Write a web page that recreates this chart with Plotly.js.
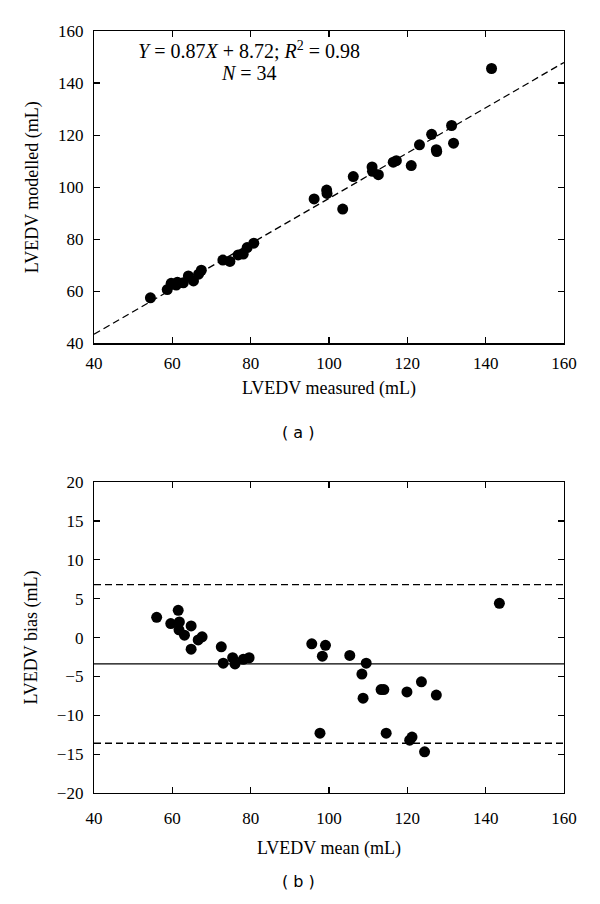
<!DOCTYPE html>
<html>
<head>
<meta charset="utf-8">
<script src="https://cdn.plot.ly/plotly-3.0.1.min.js"></script>
<style>html,body{margin:0;padding:0;background:#fff;}#chart{width:600px;height:904px;}</style>
</head>
<body>
<div id="chart"></div>
<script>
// Panel (a): measured vs modelled LVEDV (mL)
const measured = [54.4,58.7,59.7,61.0,61.3,62.8,64.1,65.4,66.7,67.4,72.9,74.7,76.8,78.1,79.1,80.8,96.2,99.4,99.5,103.5,106.2,111.0,111.1,112.6,116.4,117.2,121.0,123.1,126.2,127.4,127.5,131.3,131.8,141.5];
const modelled = [57.5,60.7,63.1,62.4,63.5,63.3,65.9,64.0,66.6,68.1,72.0,71.5,74.0,74.3,76.8,78.5,95.5,98.9,97.6,91.6,104.1,107.8,106.1,104.8,109.6,110.2,108.3,116.3,120.3,114.4,113.7,123.7,116.9,145.6];
const fitSlope = 0.87, fitIntercept = 8.72;
const fitX = [40,160];

// Panel (b): Bland-Altman mean vs bias (mL)
const meanVals = [56.0,61.5,59.6,61.8,61.7,64.8,63.1,66.6,67.6,64.8,72.5,73.0,75.4,76.0,78.1,79.6,95.6,99.1,98.3,105.3,109.5,108.4,108.7,113.3,114.0,119.9,123.6,127.4,97.7,114.6,121.2,120.6,124.4,143.5];
const biasVals = [2.6,3.5,1.8,2.0,1.0,1.5,0.3,-0.3,0.1,-1.5,-1.2,-3.3,-2.6,-3.4,-2.8,-2.6,-0.8,-1.0,-2.4,-2.3,-3.3,-4.7,-7.8,-6.7,-6.7,-7.0,-5.7,-7.4,-12.3,-12.3,-12.8,-13.2,-14.7,4.4];
const biasMean = -3.4, loaUpper = 6.8, loaLower = -13.6;

const xTicks = [40,60,80,100,120,140,160];
const yTicksA = [40,60,80,100,120,140,160];
const yTicksB = [-20,-15,-10,-5,0,5,10,15,20];

const serif = 'Liberation Serif, Times New Roman, serif';
const marker = {color:'#000', size:11, symbol:'circle'};
const dashed = {color:'#000', width:1.3, dash:'7px,4px'};

const traces = [
  {x: fitX, y: fitX.map(v => fitSlope*v + fitIntercept), mode:'lines', line:dashed, xaxis:'x', yaxis:'y'},
  {x: measured, y: modelled, mode:'markers', marker: marker, xaxis:'x', yaxis:'y'},
  {x: fitX, y: [loaUpper, loaUpper], mode:'lines', line:dashed, xaxis:'x2', yaxis:'y2'},
  {x: fitX, y: [biasMean, biasMean], mode:'lines', line:{color:'#000', width:1.3}, xaxis:'x2', yaxis:'y2'},
  {x: fitX, y: [loaLower, loaLower], mode:'lines', line:dashed, xaxis:'x2', yaxis:'y2'},
  {x: meanVals, y: biasVals, mode:'markers', marker: marker, xaxis:'x2', yaxis:'y2'}
];

const titleFont = {family:serif, size:18, color:'#000'};
const axisCommon = {
  showgrid:false, zeroline:false, showline:true, linecolor:'#000', linewidth:1.2,
  mirror:'ticks', ticks:'inside', ticklen:6, tickcolor:'#000', tickwidth:1.2,
  tickfont:{family:serif, size:17, color:'#000'}
};
const yAxisCommon = Object.assign({}, axisCommon, {ticklabelstandoff:6});

const layout = {
  width:600, height:904,
  margin:{l:94, r:36, t:31, b:111},
  paper_bgcolor:'#fff', plot_bgcolor:'#fff',
  showlegend:false,
  xaxis: Object.assign({}, axisCommon, {domain:[0,1], range:[40,160], tickvals:xTicks, anchor:'y', ticklabelstandoff:4,
    title:{text:'LVEDV measured (mL)', font:titleFont, standoff:9}}),
  yaxis: Object.assign({}, yAxisCommon, {domain:[0.59,1], range:[40,160], tickvals:yTicksA, anchor:'x',
    title:{text:'LVEDV modelled (mL)', font:titleFont, standoff:14}}),
  xaxis2: Object.assign({}, axisCommon, {domain:[0,1], range:[40,160], tickvals:xTicks, anchor:'y2', ticklabelstandoff:9,
    title:{text:'LVEDV mean (mL)', font:titleFont, standoff:14}}),
  yaxis2: Object.assign({}, yAxisCommon, {domain:[0,0.408], range:[-20,20], anchor:'x2',
    tickvals:yTicksB, ticktext:yTicksB.map(v => v < 0 ? '\u2212' + Math.abs(v) : String(v)),
    title:{text:'LVEDV bias (mL)', font:titleFont, standoff:14}}),
  annotations:[
    {text:'<i>Y</i> = 0.87<i>X</i> + 8.72; <i>R</i><sup>2</sup> = 0.98', xref:'x', yref:'y', x:79.6, y:152.7, showarrow:false, font:{family:serif, size:20, color:'#000'}},
    {text:'<i>N</i> = 34', xref:'x', yref:'y', x:79.6, y:143.8, showarrow:false, font:{family:serif, size:20, color:'#000'}},
    {text:'( a )', xref:'paper', yref:'paper', x:0.435, y:0.473, showarrow:false, font:{family:'DejaVu Sans, sans-serif', size:16, color:'#000'}},
    {text:'( b )', xref:'paper', yref:'paper', x:0.435, y:-0.131, showarrow:false, font:{family:'DejaVu Sans, sans-serif', size:16, color:'#000'}}
  ]
};

Plotly.newPlot('chart', traces, layout, {staticPlot:true, displayModeBar:false});
</script>
</body>
</html>
